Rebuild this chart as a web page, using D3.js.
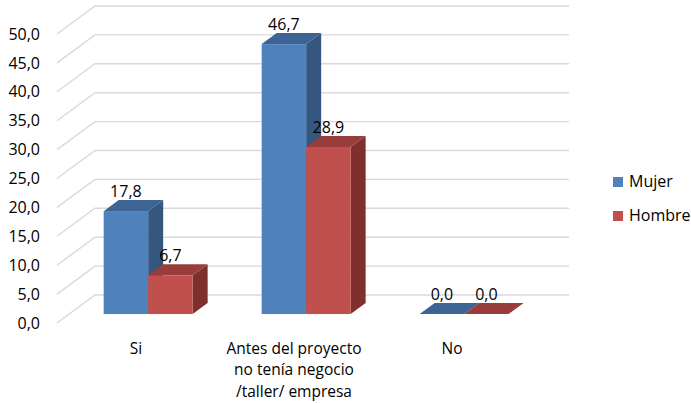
<!DOCTYPE html>
<html>
<head>
<meta charset="utf-8">
<script src="https://cdn.jsdelivr.net/npm/d3@7/dist/d3.min.js"></script>
<style>
  html, body { margin: 0; padding: 0; background: #fff; }
  svg { display: block; font-family: "Open Sans", sans-serif; }
</style>
</head>
<body>
<svg id="chart" width="691" height="403"></svg>
<script>
// Categories (each label may span several lines)
const categories = ["Si", "Antes del proyecto|no tenía negocio|/taller/ empresa", "No"];
const seriesNames = ["Mujer", "Hombre"];
const mujer = [17.8, 46.7, 0.0];
const hombre = [6.7, 28.9, 0.0];
const yTicks = [0, 5, 10, 15, 20, 25, 30, 35, 40, 45, 50];

const seriesValues = [mujer, hombre];
const colors = {
  Mujer:  { front: "#4f81bd", top: "#3c6595", side: "#34567f" },
  Hombre: { front: "#c0504d", top: "#983d3b", side: "#7f302e" }
};

const svg = d3.select("#chart");
const fmt = v => v.toFixed(1).replace(".", ",");

// Floor front-left corner and the depth vector of the 3D box
const X0 = 57, Y0 = 323;
const depth = { x: 38, y: -28 };
const plotW = 474;
const f1 = 0.32, f2 = 0.715;   // front/back depth fraction of the bars

const x = d3.scaleBand().domain(categories).range([0, plotW])
  .paddingInner(0.437).paddingOuter(0.2185);
const xs = d3.scaleBand().domain(seriesNames).range([0, x.bandwidth()]);
const y = d3.scaleLinear().domain([0, 50]).range([0, 289]);

// Gridlines: side wall diagonal + back wall horizontal
const grid = svg.append("g");
yTicks.forEach(t => {
  const yf = Y0 - y(t);
  grid.append("polyline")
    .attr("points", [[X0, yf], [X0 + depth.x, yf + depth.y], [X0 + plotW + depth.x, yf + depth.y]].map(p => p.join(",")).join(" "))
    .attr("fill", "none").attr("stroke", "#d9d9d9").attr("stroke-width", 1.4);
});

// Y axis tick labels
svg.append("g").selectAll("text").data(yTicks).join("text")
  .attr("x", 40).attr("y", d => Y0 - y(d)).attr("dy", "0.35em")
  .attr("text-anchor", "end").attr("font-size", 16).attr("fill", "#000")
  .text(fmt);

// 3D bars
const ddx = depth.x * (f2 - f1), ddy = depth.y * (f2 - f1);
const bars = svg.append("g");
const labels = svg.append("g");
categories.forEach((c, ci) => {
  seriesNames.forEach((s, si) => {
    const v = seriesValues[si][ci];
    const w = xs.bandwidth();
    const fx = X0 + x(c) + xs(s) + depth.x * f1;
    const fy = Y0 + depth.y * f1;
    const h = y(v);
    const col = colors[s];
    const pts = a => a.map(p => p.join(",")).join(" ");
    // side face
    bars.append("polygon")
      .attr("points", pts([[fx + w, fy], [fx + w, fy - h], [fx + w + ddx, fy - h + ddy], [fx + w + ddx, fy + ddy]]))
      .attr("fill", col.side);
    // front face
    bars.append("rect").attr("x", fx).attr("y", fy - h).attr("width", w).attr("height", h)
      .attr("fill", col.front);
    // top face
    bars.append("polygon")
      .attr("points", pts([[fx, fy - h], [fx + w, fy - h], [fx + w + ddx, fy - h + ddy], [fx + ddx, fy - h + ddy]]))
      .attr("fill", col.top);
    // value label
    labels.append("text")
      .attr("x", fx + w / 2).attr("y", fy - h + ddy - 3)
      .attr("text-anchor", "middle").attr("font-size", 16).attr("fill", "#000")
      .text(fmt(v));
  });
});

// Category labels
svg.append("g").selectAll("text").data(categories).join("text")
  .attr("x", d => X0 + x(d) + x.bandwidth() / 2)
  .attr("y", 353.5)
  .attr("text-anchor", "middle").attr("font-size", 15.5).attr("fill", "#000")
  .each(function(d) {
    const t = d3.select(this);
    d.split("|").forEach((line, i) => {
      t.append("tspan").attr("x", X0 + x(d) + x.bandwidth() / 2)
        .attr("dy", i === 0 ? 0 : 21.8).text(line);
    });
  });

// Legend
const legend = svg.append("g");
seriesNames.forEach((s, i) => {
  const ly = 177 + i * 34;
  legend.append("rect").attr("x", 613).attr("y", ly).attr("width", 10).attr("height", 10)
    .attr("fill", colors[s].front);
  legend.append("text").attr("x", 629).attr("y", ly + 10).attr("font-size", 16)
    .attr("fill", "#000").text(s);
});
</script>
</body>
</html>
